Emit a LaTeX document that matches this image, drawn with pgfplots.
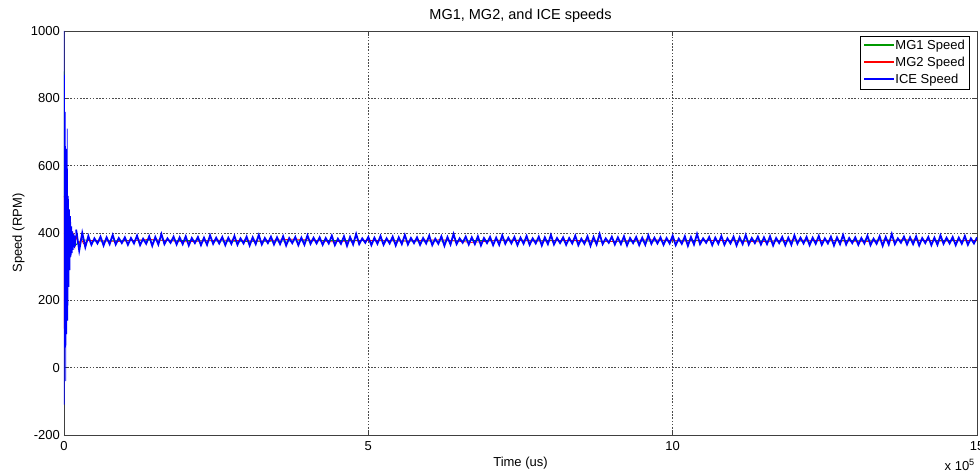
\documentclass[border=0pt]{standalone}
\usepackage{pgfplots}
\pgfplotsset{compat=1.18}
\usepackage{fontspec}
\setmainfont{Liberation Sans}
\definecolor{mgreen}{rgb}{0,0.6,0}
\definecolor{axgray}{rgb}{0.25,0.25,0.25}
\definecolor{gridgray}{rgb}{0.3,0.3,0.3}
\newcommand{\legline}[1]{\textcolor{#1}{\rule[0.28em]{30pt}{1.5pt}}\hspace{1pt}}
\begin{document}
\fontsize{13}{15}\selectfont
\begin{tikzpicture}
\begin{axis}[
 name=ax,
 scale only axis, width=913pt, height=404pt,
 xmin=0, xmax=15, ymin=-200, ymax=1000,
 xtick={0,5,10,15}, ytick={-200,0,200,400,600,800,1000},
 grid=major, grid style={gridgray, dash pattern=on 1.6pt off 1.6pt, line width=0.6pt},
 axis line style={axgray, line width=0.8pt},
 tick style={axgray, line width=0.6pt}, tick align=inside, major tick length=5pt,
 /pgf/number format/assume math mode=true,
 /pgf/number format/1000 sep={},
 ticklabel style={font=\fontsize{13}{15}\selectfont},
 xticklabel style={inner sep=0pt, anchor=north, yshift=-6pt},
 yticklabel style={inner sep=0pt, anchor=east, xshift=-4pt},
 title={MG1, MG2, and ICE speeds},
 title style={at={(axis description cs:0.5,1)}, anchor=base, yshift=5pt, inner sep=0pt, font=\fontsize{14.5}{16}\selectfont},
 xlabel={Time (us)},
 xlabel style={at={(axis description cs:0.5,0)}, anchor=base, yshift=-31pt, inner sep=0pt, font=\fontsize{13}{15}\selectfont},
 ylabel={Speed (RPM)},
 ylabel style={at={(axis description cs:-0.046,0.5)}, anchor=base, inner sep=0pt, font=\fontsize{13}{15}\selectfont},
 legend style={at={(axis description cs:1,1)}, anchor=north east, xshift=-8pt, yshift=-5pt, fill=white, inner xsep=2pt, inner ysep=2pt, row sep=1.5pt, font=\fontsize{13}{15}\selectfont, cells={anchor=west}},
 legend image code/.code={},
]
% MG1 speed
\addplot[mgreen, line width=0.7pt, forget plot] coordinates {
(0,880) (0.003,760) (0.008,300) (0.014,650) (0.022,150) (0.032,560) (0.042,250) (0.052,480)
(0.062,290) (0.072,440) (0.085,330) (0.100,410) (0.120,350) (0.150,395) (0.200,365) (0.300,380)
(0.5,376) (1.5,379) (3.0,375) (4.5,378) (6.0,376) (7.5,379) (9.0,375) (10.5,378) (12.0,376) (13.5,379) (15.0,377)
};
% MG2 speed
\addplot[red, line width=0.7pt, forget plot] coordinates {
(0,510) (0.006,100) (0.014,450) (0.024,180) (0.034,420) (0.044,250) (0.054,580) (0.064,260)
(0.074,470) (0.084,300) (0.094,430) (0.104,330) (0.114,415) (0.124,345) (0.134,405) (0.144,355)
(0.160,400) (0.180,360) (0.200,390) (0.240,365) (0.280,385) (0.320,368)
(0.40,378) (0.9,375) (1.4,381) (2.0,374) (2.6,379) (3.2,376) (3.8,382) (4.4,374) (5.0,378) (5.6,376)
(6.2,380) (6.7,372) (7.2,379) (7.8,376) (8.4,378) (9.0,375) (9.6,380) (10.2,376) (10.8,378) (11.4,374)
(12.0,379) (12.6,377) (13.2,375) (13.8,380) (14.4,376) (15.0,378)
};
% ICE speed, start-up transient
\addplot[blue, line width=0.7pt, forget plot] coordinates {
(0,1000) (0.004,-110) (0.009,870) (0.015,60) (0.022,760) (0.030,-40) (0.038,650) (0.046,100)
(0.054,710) (0.063,140) (0.072,510) (0.081,240) (0.090,470) (0.099,290) (0.108,450) (0.117,330)
(0.126,420) (0.135,340) (0.144,405) (0.153,350) (0.162,398) (0.171,355) (0.180,392) (0.190,360)
(0.20,410)
};
% ICE speed, steady state
\addplot[blue, line width=1.8pt, forget plot] coordinates {
(0.20,410) (0.25,348) (0.30,400) (0.35,358) (0.40,391) (0.45,365) (0.50,384) (0.55,369)
(0.60,389) (0.65,363) (0.70,387) (0.75,367) (0.80,394) (0.85,366) (0.90,385) (0.95,370)
(1.00,387) (1.05,365) (1.10,385) (1.15,369) (1.20,392) (1.25,364) (1.30,383) (1.35,368)
(1.40,390) (1.45,362) (1.50,388) (1.55,366) (1.60,397) (1.65,367) (1.70,384) (1.75,371)
(1.80,389) (1.85,366) (1.90,387) (1.95,367) (2.00,390) (2.05,363) (2.10,385) (2.15,370)
(2.20,388) (2.25,364) (2.30,386) (2.35,365) (2.40,393) (2.45,368) (2.50,386) (2.55,369)
(2.60,388) (2.65,364) (2.70,386) (2.75,368) (2.80,391) (2.85,365) (2.90,384) (2.95,369)
(3.00,389) (3.05,363) (3.10,387) (3.15,367) (3.20,394) (3.25,366) (3.30,385) (3.35,370)
(3.40,389) (3.45,366) (3.50,387) (3.55,367) (3.60,390) (3.65,363) (3.70,385) (3.75,370)
(3.80,388) (3.85,364) (3.90,386) (3.95,365) (4.00,393) (4.05,368) (4.10,386) (4.15,369)
(4.20,387) (4.25,365) (4.30,385) (4.35,369) (4.40,392) (4.45,364) (4.50,383) (4.55,368)
(4.60,390) (4.65,362) (4.70,388) (4.75,366) (4.80,397) (4.85,367) (4.90,384) (4.95,371)
(5.00,388) (5.05,364) (5.10,386) (5.15,368) (5.20,391) (5.25,365) (5.30,384) (5.35,369)
(5.40,389) (5.45,363) (5.50,387) (5.55,367) (5.60,394) (5.65,366) (5.70,385) (5.75,370)
(5.80,387) (5.85,365) (5.90,385) (5.95,369) (6.00,392) (6.05,364) (6.10,383) (6.15,368)
(6.20,390) (6.25,362) (6.30,388) (6.35,366) (6.40,397) (6.45,367) (6.50,384) (6.55,371)
(6.60,389) (6.65,366) (6.70,387) (6.75,367) (6.80,390) (6.85,363) (6.90,385) (6.95,370)
(7.00,388) (7.05,364) (7.10,386) (7.15,365) (7.20,393) (7.25,368) (7.30,386) (7.35,369)
(7.40,388) (7.45,364) (7.50,386) (7.55,368) (7.60,391) (7.65,365) (7.70,384) (7.75,369)
(7.80,389) (7.85,363) (7.90,387) (7.95,367) (8.00,394) (8.05,366) (8.10,385) (8.15,370)
(8.20,387) (8.25,365) (8.30,385) (8.35,369) (8.40,392) (8.45,364) (8.50,383) (8.55,368)
(8.60,390) (8.65,362) (8.70,388) (8.75,366) (8.80,397) (8.85,367) (8.90,384) (8.95,371)
(9.00,389) (9.05,366) (9.10,387) (9.15,367) (9.20,390) (9.25,363) (9.30,385) (9.35,370)
(9.40,388) (9.45,364) (9.50,386) (9.55,365) (9.60,393) (9.65,368) (9.70,386) (9.75,369)
(9.80,387) (9.85,365) (9.90,385) (9.95,369) (10.00,392) (10.05,364) (10.10,383) (10.15,368)
(10.20,390) (10.25,362) (10.30,388) (10.35,366) (10.40,397) (10.45,367) (10.50,384) (10.55,371)
(10.60,388) (10.65,364) (10.70,386) (10.75,368) (10.80,391) (10.85,365) (10.90,384) (10.95,369)
(11.00,389) (11.05,363) (11.10,387) (11.15,367) (11.20,394) (11.25,366) (11.30,385) (11.35,370)
(11.40,389) (11.45,366) (11.50,387) (11.55,367) (11.60,390) (11.65,363) (11.70,385) (11.75,370)
(11.80,388) (11.85,364) (11.90,386) (11.95,365) (12.00,393) (12.05,368) (12.10,386) (12.15,369)
(12.20,388) (12.25,364) (12.30,386) (12.35,368) (12.40,391) (12.45,365) (12.50,384) (12.55,369)
(12.60,389) (12.65,363) (12.70,387) (12.75,367) (12.80,394) (12.85,366) (12.90,385) (12.95,370)
(13.00,387) (13.05,365) (13.10,385) (13.15,369) (13.20,392) (13.25,364) (13.30,383) (13.35,368)
(13.40,390) (13.45,362) (13.50,388) (13.55,366) (13.60,397) (13.65,367) (13.70,384) (13.75,371)
(13.80,389) (13.85,366) (13.90,387) (13.95,367) (14.00,390) (14.05,363) (14.10,385) (14.15,370)
(14.20,388) (14.25,364) (14.30,386) (14.35,365) (14.40,393) (14.45,368) (14.50,386) (14.55,369)
(14.60,388) (14.65,364) (14.70,386) (14.75,368) (14.80,391) (14.85,365) (14.90,384) (14.95,369)
(15.00,387)
};
\addlegendimage{empty legend}
\addlegendentry{\legline{mgreen}MG1 Speed}
\addlegendimage{empty legend}
\addlegendentry{\legline{red}MG2 Speed}
\addlegendimage{empty legend}
\addlegendentry{\legline{blue}ICE Speed}
\end{axis}
\node[anchor=base east, inner sep=0pt, font=\fontsize{13}{15}\selectfont] at ([xshift=-2pt,yshift=-35pt]ax.south east) {x 10\textsuperscript{5}};
\pgfresetboundingbox
\path[use as bounding box] (-64pt,-37pt) rectangle (916pt,435pt);
\end{tikzpicture}
\end{document}
